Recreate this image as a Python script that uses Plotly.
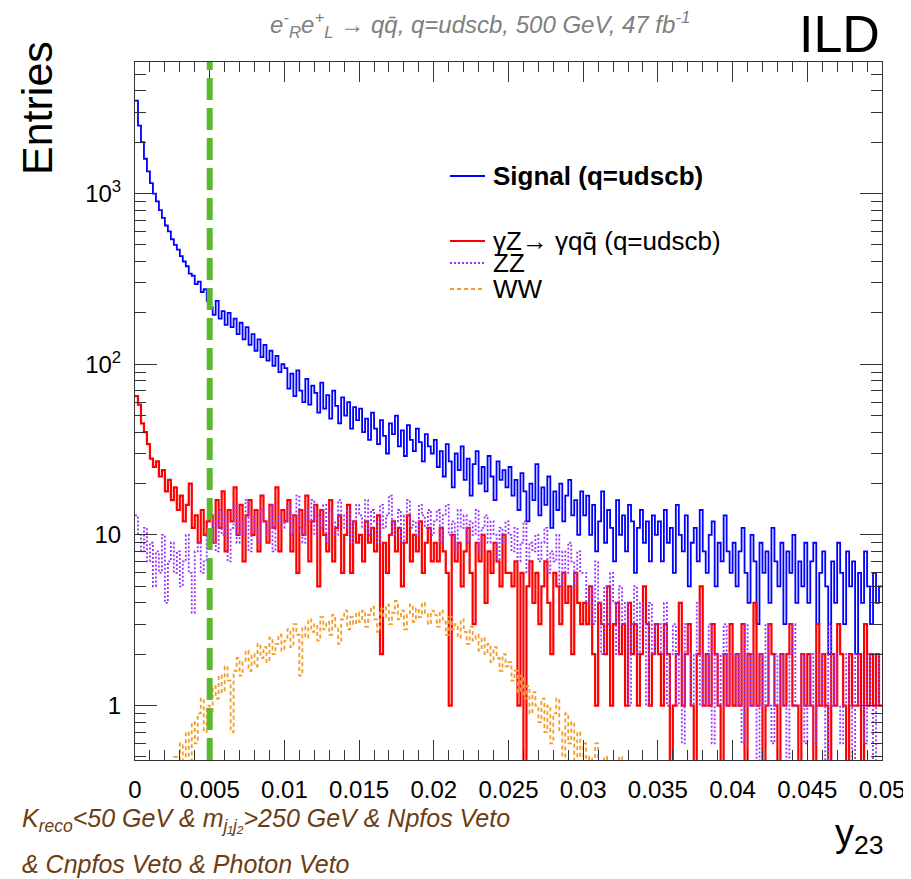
import numpy as np
import plotly.graph_objects as go

# ---------------- data (y23 histograms, 250 bins from 0 to 0.05) ----------------
x_min, x_max = 0.0, 0.05

signal = [
    3500, 2500, 2000, 1600, 1350, 1150, 1000, 900, 800, 720, 650, 600, 540, 500, 470, 430, 400, 375, 340, 330, 295, 305, 265, 275, 235,
    215, 195, 235, 185, 205, 170, 200, 165, 185, 150, 175, 140, 165, 130, 150, 120, 140, 110, 130, 105, 120, 98, 112, 90, 100,
    95, 72, 88, 65, 92, 70, 60, 82, 58, 75, 68, 52, 78, 55, 66, 48, 70, 57, 45, 64, 50, 60, 42, 56, 47,
    55, 40, 48, 36, 52, 42, 34, 47, 38, 30, 45, 39, 50, 33, 41, 29, 44, 36, 31, 42, 35, 27, 39, 33, 30,
    36, 25, 31, 22, 34, 27, 19, 30, 24, 33, 21, 28, 17, 26, 31, 20, 25, 18, 29, 22, 16, 27, 21, 24, 19,
    25, 17, 21, 14, 23, 18, 12, 20, 16, 26, 13, 19, 15, 22, 11, 18, 14, 20, 12, 17, 21, 13, 16, 10, 18,
    13, 17, 10, 15, 8, 12, 18, 9, 14, 11, 7, 16, 10, 13, 8, 15, 12, 6, 11, 14, 9, 12, 7, 13, 10,
    12, 7, 14, 9, 11, 6, 15, 10, 8, 13, 5, 9, 11, 7, 14, 8, 6, 10, 12, 5, 9, 7, 13, 8, 6,
    9, 5, 8, 11, 6, 4, 10, 7, 3, 9, 6, 8, 4, 11, 7, 5, 9, 3, 8, 6, 10, 4, 7, 5, 9,
    4, 7, 9, 3, 6, 8, 5, 2, 7, 4, 9, 6, 3, 8, 5, 7, 2, 6, 4, 8, 5, 3, 6, 4, 5,
]

gammaZ = [
    65, 58, 45, 40, 34, 28, 25, 27, 22, 24, 18, 21, 16, 19, 14, 17, 12, 15, 20, 11, 13, 9, 14, 10, 12,
    13, 9, 16, 11, 18, 8, 14, 12, 19, 10, 15, 7, 13, 16, 10, 14, 8, 17, 12, 9, 15, 11, 19, 8, 14,
    12, 16, 8, 13, 6, 14, 10, 17, 7, 12, 15, 5, 14, 10, 8, 16, 7, 11, 13, 6, 10, 15, 6, 12, 9,
    10, 7, 12, 9, 11, 8, 13, 2, 9, 6, 10, 12, 8, 11, 5, 9, 13, 7, 10, 8, 12, 6, 9, 11, 7,
    9, 7, 11, 8, 6, 1, 10, 7, 9, 5, 8, 11, 6, 3, 9, 7, 10, 4, 8, 6, 9, 7, 5, 10, 6,
    6, 5, 7, 1, 6, 0, 5, 7, 4, 6, 3, 5, 7, 4, 2, 6, 5, 3, 6, 4, 5, 2, 6, 4, 3,
    4, 3, 5, 2, 1, 4, 3, 2, 5, 1, 3, 4, 2, 3, 1, 4, 2, 3, 1, 2, 5, 3, 1, 2, 3,
    2, 1, 3, 2, 0, 1, 2, 4, 1, 2, 3, 1, 0, 2, 5, 1, 2, 1, 3, 2, 1, 0, 2, 1, 3,
    1, 2, 1, 3, 0, 2, 1, 4, 1, 2, 0, 1, 3, 2, 1, 0, 2, 1, 2, 3, 1, 1, 0, 2, 1,
    2, 1, 0, 3, 1, 2, 1, 0, 2, 1, 3, 2, 1, 0, 2, 1, 1, 2, 0, 3, 1, 2, 1, 2, 1,
]

zz = [
    13, 10, 8, 11, 7, 9, 5, 8, 6, 10, 4, 7, 9, 6, 8, 5, 7, 10, 6, 3.5, 8, 9, 6, 7, 10,
    9, 12, 8, 14, 10, 13, 7, 11, 15, 9, 12, 10, 16, 8, 13, 11, 9, 14, 12, 10, 15, 8, 12, 13, 11,
    12, 15, 10, 13, 17, 11, 9, 14, 12, 16, 10, 13, 11, 15, 9, 14, 12, 10, 16, 13, 11, 14, 9, 12, 15,
    13, 11, 16, 10, 14, 12, 9, 15, 11, 13, 17, 10, 12, 14, 9, 13, 16, 11, 12, 10, 15, 13, 11, 14, 10,
    12, 14, 9, 13, 15, 10, 12, 8, 14, 11, 13, 9, 12, 10, 14, 8, 11, 13, 9, 12, 10, 7, 11, 9, 12,
    10, 8, 11, 7, 9, 12, 6, 9, 8, 10, 7, 9, 11, 6, 8, 7, 10, 5, 8, 6, 9, 7, 5, 8, 6,
    6, 4, 5, 3, 7, 4, 2, 5, 3, 6, 4, 2, 5, 3, 4, 1, 3, 5, 2, 4, 3, 1, 4, 2, 3,
    3, 2, 4, 1, 2, 3, 1, 2, 0.6, 3, 2, 1, 2, 4, 1, 2, 1, 3, 0.6, 2, 1, 2, 3, 1, 2,
    2, 1, 2, 0.6, 3, 1, 2, 1, 0, 2, 1, 3, 1, 0.6, 2, 1, 2, 1, 0, 2, 3, 1, 1, 2, 0.6,
    1, 2, 0.6, 1, 2, 1, 0, 3, 1, 2, 1, 0.6, 1, 2, 1, 0, 2, 1, 1, 0.6, 2, 1, 0, 1, 2,
]

ww = [
    0, 0, 0.3, 0, 0, 0.2, 0, 0, 0.4, 0, 0, 0.3, 0, 0.5, 0, 0.6, 0.3, 0.7, 0.4, 0.8, 0.6, 0.9, 1.1, 0.7, 1.0,
    0.9, 1.3, 1.1, 1.5, 1.2, 1.7, 1.4, 0.7, 1.6, 1.9, 1.5, 1.8, 2.1, 1.6, 2.0, 1.7, 2.3, 1.9, 2.2, 1.8, 2.5, 2.0, 2.3, 2.6, 2.1,
    2.4, 2.8, 2.2, 3.0, 2.6, 1.5, 2.9, 2.5, 3.2, 2.7, 3.0, 2.4, 3.3, 2.8, 3.1, 2.6, 3.4, 2.9, 2.3, 3.2, 3.6, 2.8, 3.3, 3.0, 3.5,
    3.1, 3.6, 2.9, 3.4, 3.8, 3.2, 2.7, 3.7, 3.3, 3.9, 3.0, 3.5, 4.1, 3.2, 3.6, 2.8, 3.4, 3.9, 3.1, 3.7, 3.3, 4.0, 3.5, 3.0, 3.6,
    3.4, 2.9, 3.6, 3.1, 2.6, 3.3, 2.8, 3.0, 2.5, 3.2, 2.7, 2.3, 2.9, 2.4, 2.6, 2.1, 2.5, 2.0, 2.3, 1.8, 2.2, 1.9, 1.6, 2.0, 1.7,
    1.8, 1.4, 1.6, 1.2, 1.5, 1.1, 1.3, 0.9, 1.2, 1.0, 0.8, 1.1, 0.7, 1.0, 0.6, 0.9, 1.1, 0.7, 0.5, 0.9, 0.6, 0.8, 0.4, 0.7, 0.5,
    0.6, 0.4, 0.5, 0.3, 0.6, 0.2, 0.4, 0.5, 0.1, 0.3, 0.4, 0.2, 0.5, 0.1, 0.3, 0.2, 0.4, 0.1, 0.2, 0.3, 0.1, 0.2, 0, 0.1, 0.2,
    0.1, 0, 0.2, 0, 0.1, 0, 0, 0.3, 0, 0.1, 0, 0, 0.1, 0, 0, 0.2, 0, 0, 0.1, 0, 0, 0, 0.1, 0, 0,
    0, 0.1, 0, 0, 0, 0.1, 0, 0, 0, 0, 0.1, 0, 0, 0, 0, 0, 0.1, 0, 0, 0, 0, 0, 0, 0.1, 0,
    0, 0, 0, 0.1, 0, 0, 0, 0, 0, 0, 0, 0, 0.1, 0, 0, 0, 0, 0, 0, 0, 0, 0, 0, 0, 0,
]

series = [
    ("Signal (q=udscb)", signal, "#0000ff", 1.8, "solid"),
    ("gammaZ", gammaZ, "#ff0000", 2.2, "solid"),
    ("ZZ", zz, "#9933ff", 1.8, "2px,2px"),
    ("WW", ww, "#f39c28", 1.8, "4px,3px"),
]

x_ticks = [0, 0.005, 0.01, 0.015, 0.02, 0.025, 0.03, 0.035, 0.04, 0.045, 0.05]
x_ticktext = ["0", "0.005", "0.01", "0.015", "0.02", "0.025", "0.03", "0.035", "0.04", "0.045", "0.05"]
y_ticks = [1, 10, 100, 1000]
y_ticktext = ["1", "10", "10<sup>2</sup>", "10<sup>3</sup>"]
cut_value = 0.005

# ---------------- figure ----------------
# page body has an 8 px margin: figure drawn 8 px in from the window corner
OFF = 8
W, H = 911, 879
L, R, T, B = 135, 882, 62, 760          # plot frame, window pixels
FONT = "Liberation Sans, Arial, Helvetica, sans-serif"


def px(xp):
    return (xp - L) / (R - L)


def py(yp):
    return (B - yp) / (B - T)


fig = go.Figure()
for name, vals, color, width, dash in series:
    v = np.asarray(vals, dtype=float)
    edges = np.linspace(x_min, x_max, len(v) + 1)
    disp = np.where(v > 0, v, 1e-3)
    fig.add_trace(go.Scatter(
        x=edges, y=np.append(disp, disp[-1]), mode="lines", line_shape="hv",
        line=dict(color=color, width=width, dash=dash), name=name, showlegend=False,
        hoverinfo="skip"))

y_minor = [m * 10 ** e for e in range(-1, 4) for m in range(2, 10) if 0.45 < m * 10 ** e < 6000]

fig.update_layout(
    width=W, height=H,
    margin=dict(l=L - OFF, r=W - (R - OFF), t=T - OFF, b=H - (B - OFF), pad=0, autoexpand=False),
    paper_bgcolor="white", plot_bgcolor="white",
    font=dict(family=FONT, color="black", size=24),
    showlegend=False,
    xaxis=dict(
        range=[x_min, x_max], showgrid=False, zeroline=False, automargin=False,
        showline=True, linecolor="#333", linewidth=1, mirror="allticks",
        ticks="inside", ticklen=20, tickcolor="#333", tickwidth=1,
        tickvals=x_ticks, ticktext=x_ticktext, tickfont=dict(size=24),
        ticklabelstandoff=8, ticklabeloverflow="allow",
        minor=dict(ticks="inside", ticklen=10, dtick=0.001, tick0=0, tickcolor="#333", showgrid=False),
    ),
    yaxis=dict(
        type="log", range=[np.log10(0.48), np.log10(5900)], showgrid=False, zeroline=False, automargin=False,
        showline=True, linecolor="#333", linewidth=1, mirror="allticks",
        ticks="inside", ticklen=22, tickcolor="#333", tickwidth=1,
        tickvals=y_ticks, ticktext=y_ticktext, tickfont=dict(size=24),
        ticklabelstandoff=8, ticklabeloverflow="allow",
        minor=dict(ticks="inside", ticklen=11, tickvals=y_minor, tickcolor="#333", showgrid=False),
    ),
)

fig.add_shape(type="line", xref="x", yref="paper", x0=cut_value, x1=cut_value, y0=0, y1=1,
              line=dict(color="#5cb82e", width=6, dash="22px,8px"), layer="above")

leg = [
    (176, "#0000ff", 2.0, "solid", "<b>Signal (q=udscb)</b>"),
    (241, "#ff0000", 2.2, "solid", "γZ→ γqq\u0304 (q=udscb)"),
    (263, "#9933ff", 2.0, "2px,2px", "ZZ"),
    (289, "#f39c28", 2.0, "4px,3px", "WW"),
]
for yy, col, lw, dash, txt in leg:
    fig.add_shape(type="line", xref="paper", yref="paper", x0=px(450), x1=px(485), y0=py(yy), y1=py(yy),
                  line=dict(color=col, width=lw, dash=dash))
    fig.add_annotation(xref="paper", yref="paper", x=px(491), y=py(yy), xanchor="left", yanchor="middle",
                       text=txt, showarrow=False, font=dict(size=26, color="black"))

fig.add_annotation(xref="paper", yref="paper", x=px(480), y=py(25), xanchor="center", yanchor="middle",
                   text="<i>e<sup>-</sup><sub>R</sub>e<sup>+</sup><sub>L</sub> → qq\u0304, q=udscb, 500 GeV, 47 fb<sup>-1</sup></i>",
                   showarrow=False, font=dict(size=24, color="#808080"))
fig.add_annotation(xref="paper", yref="paper", x=px(882), y=py(34), xanchor="right", yanchor="middle",
                   text="ILD", showarrow=False, font=dict(size=52, color="black"))
fig.add_annotation(xref="paper", yref="paper", x=px(37), y=py(108), xanchor="center", yanchor="middle",
                   text="Entries", textangle=-90, showarrow=False, font=dict(size=43, color="black"))
fig.add_annotation(xref="paper", yref="paper", x=px(886), y=py(836), xanchor="right", yanchor="middle",
                   text="y<sub>23</sub>", showarrow=False, font=dict(size=38, color="black"))
fig.add_annotation(xref="paper", yref="paper", x=px(20), y=py(820), xanchor="left", yanchor="middle",
                   text="<i>K<sub>reco</sub>&lt;50 GeV &amp; m<sub>j₁j₂</sub>&gt;250 GeV &amp; Npfos Veto</i>",
                   showarrow=False, font=dict(size=25, color="#6b3d12"))
fig.add_annotation(xref="paper", yref="paper", x=px(20), y=py(864), xanchor="left", yanchor="middle",
                   text="<i>&amp; Cnpfos Veto &amp; Photon Veto</i>",
                   showarrow=False, font=dict(size=25, color="#6b3d12"))

fig.write_html("out.html")
